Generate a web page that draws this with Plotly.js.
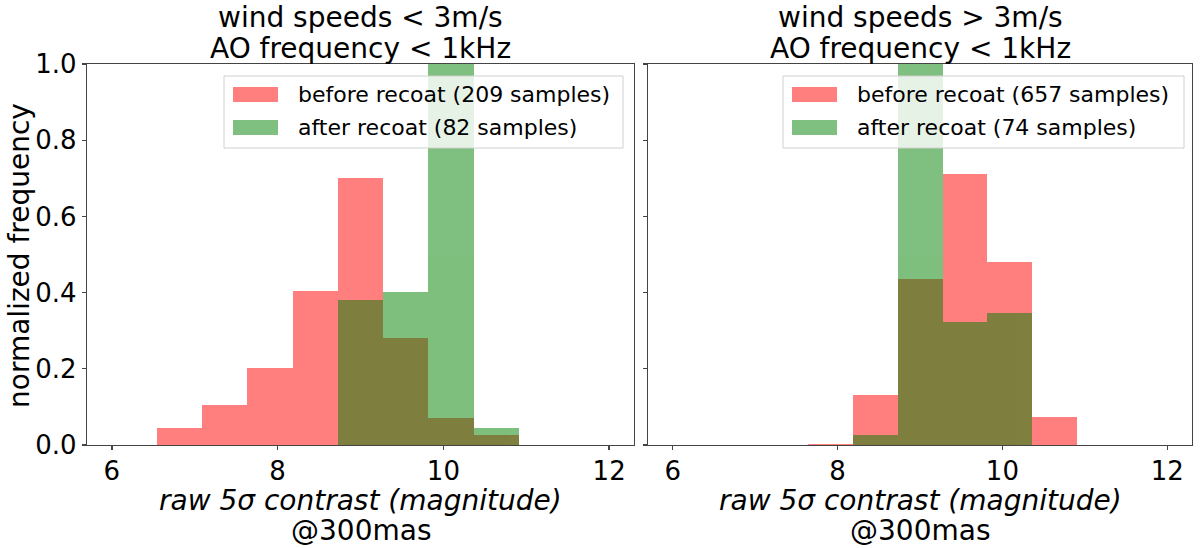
<!DOCTYPE html>
<html><head><meta charset="utf-8">
<script src="https://cdn.plot.ly/plotly-3.0.1.min.js"></script>
<style>html,body{margin:0;padding:0;background:#fff}</style>
</head><body><div id="chart" style="width:1200px;height:548px"></div>
<script>
// histogram bin edges (11 bins between 6 and 12)
const binEdges = [6.000, 6.545, 7.091, 7.636, 8.182, 8.727, 9.273, 9.818, 10.364, 10.909, 11.455, 12.000];
// normalized frequency per bin
const leftBefore  = [0, 0.044, 0.105, 0.202, 0.404, 0.702, 0.281, 0.070, 0.026, 0, 0];
const leftAfter   = [0, 0, 0, 0, 0, 0.380, 0.402, 1.006, 0.045, 0, 0];
const rightBefore = [0, 0, 0, 0.003, 0.131, 0.435, 0.712, 0.480, 0.073, 0, 0];
const rightAfter  = [0, 0, 0, 0, 0.025, 1.140, 0.322, 0.347, 0, 0, 0];

const panelTitles = [["wind speeds < 3m/s", "AO frequency < 1kHz"], ["wind speeds > 3m/s", "AO frequency < 1kHz"]];
const legendLabels = [["before recoat (209 samples)", "after recoat (82 samples)"], ["before recoat (657 samples)", "after recoat (74 samples)"]];
const xTitle = ["<i>raw 5σ contrast (magnitude)</i>", "@300mas"];
const yTitle = "normalized frequency";
const xTicks = [6, 8, 10, 12];
const yTicks = [0, 0.2, 0.4, 0.6, 0.8, 1.0];

const centers = binEdges.slice(0, -1).map((e, i) => (e + binEdges[i + 1]) / 2);
const widths = binEdges.slice(0, -1).map((e, i) => binEdges[i + 1] - e);

const W = 1200, H = 548;
const px = v => v / W, py = v => 1 - v / H;
const FONT = "DejaVu Sans";
const RED = "red", GREEN = "green";

function barTrace(vals, color, name, xa, ya) {
  return {type: "bar", x: centers, y: vals, width: widths, name: name,
    marker: {color: color, line: {width: 0}}, opacity: 0.5,
    xaxis: xa, yaxis: ya, showlegend: false, hoverinfo: "skip"};
}

const data = [
  barTrace(leftBefore, RED, legendLabels[0][0], "x", "y"),
  barTrace(leftAfter, GREEN, legendLabels[0][1], "x", "y"),
  barTrace(rightBefore, RED, legendLabels[1][0], "x2", "y2"),
  barTrace(rightAfter, GREEN, legendLabels[1][1], "x2", "y2")
];

const axisCommon = {showline: true, mirror: true, linecolor: "#444", linewidth: 1.3,
  ticks: "outside", ticklen: 4, tickwidth: 1.3, tickcolor: "#444",
  showgrid: false, zeroline: false, tickfont: {family: FONT, size: 26, color: "#000"}};

const yDomain = [(H - 445) / H, (H - 64) / H];
const panels = [{x0: 87, x1: 634}, {x0: 648, x1: 1192}];

const layout = {
  width: W, height: H, autosize: false,
  margin: {l: 0, r: 0, t: 0, b: 0},
  paper_bgcolor: "#fff", plot_bgcolor: "#fff",
  barmode: "overlay", bargap: 0, hovermode: false,
  font: {family: FONT, color: "#000"},
  xaxis: Object.assign({}, axisCommon, {domain: [px(87), px(634)], range: [5.7, 12.3], tickvals: xTicks, anchor: "y", ticklabelstandoff: -2}),
  yaxis: Object.assign({}, axisCommon, {domain: yDomain, range: [0, 1], tickvals: yTicks, ticktext: yTicks.map(v => v.toFixed(1)), anchor: "x"}),
  xaxis2: Object.assign({}, axisCommon, {domain: [px(648), px(1192)], range: [5.7, 12.3], tickvals: xTicks, anchor: "y2", ticklabelstandoff: -2}),
  yaxis2: Object.assign({}, axisCommon, {domain: yDomain, range: [0, 1], tickvals: yTicks, showticklabels: false, anchor: "x2"}),
  shapes: [], annotations: []
};

// titles and axis titles
panels.forEach((p, i) => {
  const cx = px((p.x0 + p.x1) / 2);
  layout.annotations.push(
    {text: panelTitles[i][0], x: cx, y: py(17), xref: "paper", yref: "paper", xanchor: "center", yanchor: "middle", showarrow: false, font: {size: 28}},
    {text: panelTitles[i][1], x: cx, y: py(48), xref: "paper", yref: "paper", xanchor: "center", yanchor: "middle", showarrow: false, font: {size: 28}},
    {text: xTitle[0], x: cx, y: py(500.5), xref: "paper", yref: "paper", xanchor: "center", yanchor: "middle", showarrow: false, font: {size: 28}},
    {text: xTitle[1], x: cx, y: py(530), xref: "paper", yref: "paper", xanchor: "center", yanchor: "middle", showarrow: false, font: {size: 28}}
  );
});
layout.annotations.push({text: yTitle, x: px(19), y: py(256), xref: "paper", yref: "paper", xanchor: "center", yanchor: "middle", textangle: -90, showarrow: false, font: {size: 28}});

// legends
const legendBoxes = [{x0: 224, x1: 623}, {x0: 783, x1: 1184}];
const swatchColors = ["rgba(255,0,0,0.5)", "rgba(0,128,0,0.5)"];
legendBoxes.forEach((b, i) => {
  layout.shapes.push({type: "rect", xref: "paper", yref: "paper", x0: px(b.x0), x1: px(b.x1), y0: py(148), y1: py(76),
    fillcolor: "rgba(255,255,255,0.8)", line: {color: "#d0d0d0", width: 1}, layer: "above"});
  [94.5, 127.5].forEach((cy, j) => {
    layout.shapes.push({type: "rect", xref: "paper", yref: "paper", x0: px(b.x0 + 9), x1: px(b.x0 + 54), y0: py(cy + 7.5), y1: py(cy - 7.5),
      fillcolor: swatchColors[j], line: {width: 0}, layer: "above"});
    layout.annotations.push({text: legendLabels[i][j], x: px(b.x0 + 72), y: py(cy), xref: "paper", yref: "paper", xanchor: "left", yanchor: "middle", showarrow: false, font: {size: 22}});
  });
});

Plotly.newPlot("chart", data, layout, {staticPlot: true, displayModeBar: false});
</script>
</body></html>
